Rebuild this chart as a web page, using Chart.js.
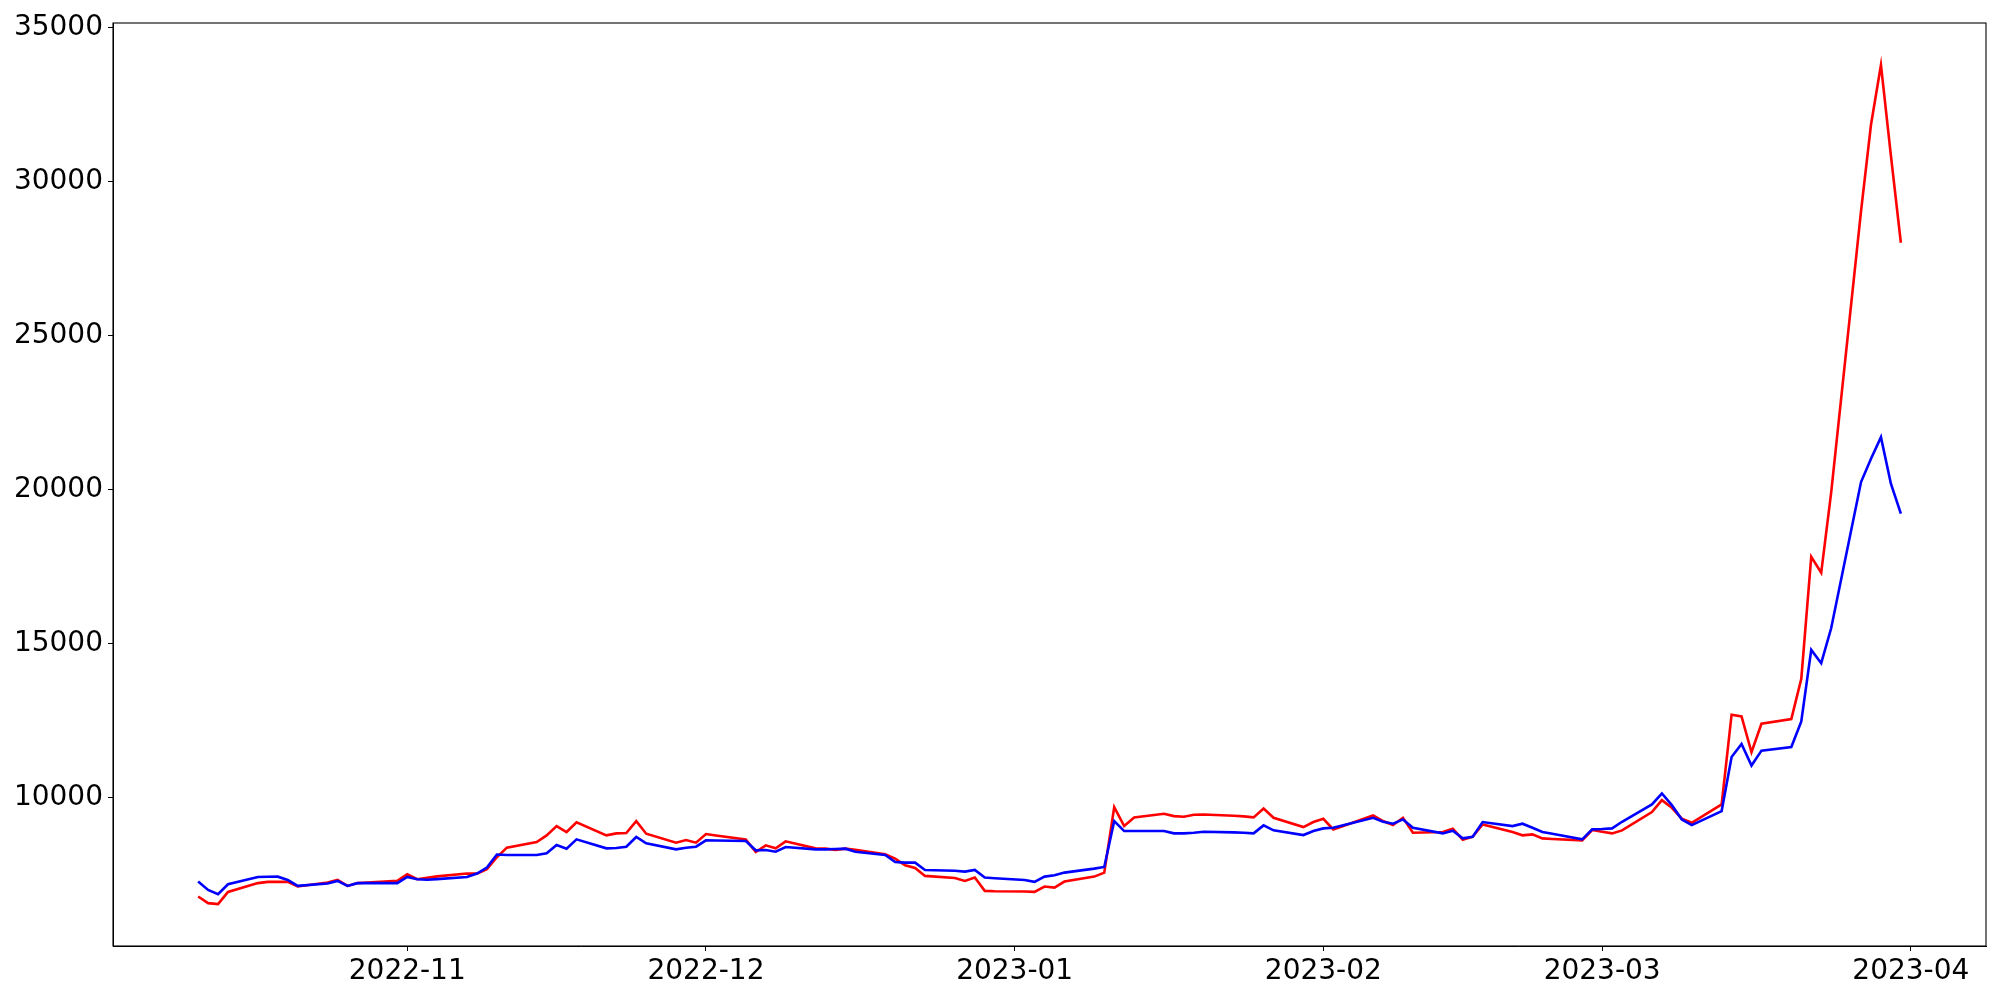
<!DOCTYPE html>
<html>
<head>
<meta charset="utf-8">
<script src="https://cdn.jsdelivr.net/npm/chart.js@4/dist/chart.umd.min.js"></script>
<style>
  html, body { margin: 0; padding: 0; background: #ffffff; }
  #chart { display: block; }
</style>
</head>
<body>
<canvas id="chart" width="2000" height="1000"></canvas>
<script>
// Trading days
const DATES = [
    '2022-10-11', '2022-10-12', '2022-10-13', '2022-10-14', '2022-10-17', '2022-10-18',
    '2022-10-19', '2022-10-20', '2022-10-21', '2022-10-24', '2022-10-25', '2022-10-26',
    '2022-10-27', '2022-10-28', '2022-10-31',
    '2022-11-01', '2022-11-02', '2022-11-03', '2022-11-04', '2022-11-07', '2022-11-08',
    '2022-11-09', '2022-11-10', '2022-11-11', '2022-11-14', '2022-11-15', '2022-11-16',
    '2022-11-17', '2022-11-18', '2022-11-21', '2022-11-22', '2022-11-23', '2022-11-24',
    '2022-11-25', '2022-11-28', '2022-11-29', '2022-11-30',
    '2022-12-01', '2022-12-02', '2022-12-05', '2022-12-06', '2022-12-07', '2022-12-08',
    '2022-12-09', '2022-12-12', '2022-12-13', '2022-12-14', '2022-12-15', '2022-12-16',
    '2022-12-19', '2022-12-20', '2022-12-21', '2022-12-22', '2022-12-23', '2022-12-26',
    '2022-12-27', '2022-12-28', '2022-12-29', '2022-12-30',
    '2023-01-02', '2023-01-03', '2023-01-04', '2023-01-05', '2023-01-06', '2023-01-09',
    '2023-01-10', '2023-01-11', '2023-01-12', '2023-01-13', '2023-01-16', '2023-01-17',
    '2023-01-18', '2023-01-19', '2023-01-20', '2023-01-23', '2023-01-24', '2023-01-25',
    '2023-01-26', '2023-01-27', '2023-01-30', '2023-01-31',
    '2023-02-01', '2023-02-02', '2023-02-03', '2023-02-06', '2023-02-07', '2023-02-08',
    '2023-02-09', '2023-02-10', '2023-02-13', '2023-02-14', '2023-02-15', '2023-02-16',
    '2023-02-17', '2023-02-20', '2023-02-21', '2023-02-22', '2023-02-23', '2023-02-24',
    '2023-02-27', '2023-02-28',
    '2023-03-01', '2023-03-02', '2023-03-03', '2023-03-06', '2023-03-07', '2023-03-08',
    '2023-03-09', '2023-03-10', '2023-03-13', '2023-03-14', '2023-03-15', '2023-03-16',
    '2023-03-17', '2023-03-20', '2023-03-21', '2023-03-22', '2023-03-23', '2023-03-24',
    '2023-03-27', '2023-03-28', '2023-03-29', '2023-03-30', '2023-03-31'
];

// Red series
const RED_VALUES = [
    6776, 6560, 6530, 6925, 7210, 7250, 7250, 7250, 7100, 7230, 7314, 7119, 7210, 7230, 7282,
    7498, 7336, 7380, 7430, 7520, 7520, 7660, 8050, 8362, 8546, 8762, 9064, 8870, 9183,
    8762, 8826, 8837, 9226, 8816, 8524, 8610, 8524,
    8805, 8760, 8632, 8222, 8438, 8340, 8567, 8340, 8330, 8286, 8330, 8297, 8146, 8006,
    7790, 7703, 7444, 7379, 7282, 7390, 6958, 6947,
    6936, 6926, 7098, 7066, 7260, 7422, 7552, 9680, 9064, 9345, 9464, 9388, 9366, 9431,
    9442, 9400, 9380, 9345, 9636, 9334, 9032, 9194,
    9302, 8956, 9064, 9410, 9226, 9096, 9334, 8848, 8870, 8978, 8620, 8718, 9118, 8870,
    8762, 8794, 8664, 8643, 8600, 8934,
    8880, 8826, 8924, 9518, 9906, 9658, 9302, 9172, 9766, 12682, 12628, 11462, 12390, 12542,
    13848, 17812, 17294, 19900, 29044, 31852, 33796, 30850, 28018
];

// Blue series
const BLUE_VALUES = [
    7260, 6990, 6850, 7174, 7411, 7415, 7420, 7314, 7119, 7197, 7282, 7119, 7209, 7210, 7210,
    7411, 7336, 7320, 7340, 7411, 7520, 7715, 8140, 8124, 8124, 8178, 8448, 8330, 8632,
    8340, 8351, 8394, 8708, 8502, 8308, 8362, 8394,
    8600, 8595, 8578, 8276, 8286, 8232, 8384, 8308, 8308, 8319, 8330, 8232, 8124, 7898,
    7876, 7876, 7638, 7610, 7584, 7638, 7390, 7368,
    7314, 7250, 7422, 7466, 7552, 7682, 7736, 9226, 8902, 8902, 8902, 8826, 8826, 8848,
    8880, 8859, 8848, 8826, 9086, 8924, 8772, 8902,
    8988, 9010, 9090, 9334, 9204, 9140, 9280, 9010, 8826, 8915, 8664, 8718, 9194, 9064,
    9140, 9010, 8870, 8816, 8632, 8956,
    8967, 8988, 9204, 9766, 10122, 9744, 9280, 9096, 9550, 11310, 11732, 11030, 11516, 11634,
    12466, 14788, 14356, 15490, 20242, 20998, 21700, 20188, 19216
];

// Axis ticks
const X_TICK_LABELS = ['2022-11', '2022-12', '2023-01', '2023-02', '2023-03', '2023-04'];
const Y_TICKS = [10000, 15000, 20000, 25000, 30000, 35000];

const RED  = '#ff0000';
const BLUE = '#0000ff';
const FONT = { family: 'DejaVu Sans', size: 28 };

const DAY_MS = 86400000;
const to_day = s => {
    const [y, m, d] = s.split('-').map(Number);
    return Date.UTC(y, m - 1, d || 1) / DAY_MS;
};

const x_days = DATES.map(to_day);
const x_first = x_days[0];
const x_last = x_days[x_days.length - 1];
const x_pad = (x_last - x_first) * 0.05;

const all_values = RED_VALUES.concat(BLUE_VALUES);
const y_lo = Math.min(...all_values);
const y_hi = Math.max(...all_values);
const y_pad = (y_hi - y_lo) * 0.05;

const series = values => values.map((v, i) => ({ x: x_days[i], y: v }));

// Frame around the plot area, like matplotlib spines
const frame_plugin = {
    id: 'frame',
    afterDraw(chart) {
        const { ctx, chartArea: a } = chart;
        ctx.save();
        ctx.strokeStyle = '#000000';
        ctx.lineWidth = 1.1;
        ctx.strokeRect(a.left, a.top, a.right - a.left, a.bottom - a.top);
        ctx.restore();
    }
};

window.onload = () => {
    new Chart(document.getElementById('chart'), {
        type: 'line',
        data: {
            datasets: [
                {
                    data: series(BLUE_VALUES),
                    borderColor: BLUE,
                    borderWidth: 2.6,
                    pointRadius: 0,
                    tension: 0,
                    order: 1
                },
                {
                    data: series(RED_VALUES),
                    borderColor: RED,
                    borderWidth: 2.6,
                    pointRadius: 0,
                    tension: 0,
                    order: 2
                }
            ]
        },
        options: {
            responsive: false,
            animation: false,
            events: [],
            layout: { padding: { top: 23, right: 14, left: 0, bottom: 0 } },
            plugins: {
                legend: { display: false },
                tooltip: { enabled: false }
            },
            scales: {
                x: {
                    type: 'linear',
                    min: x_first - x_pad,
                    max: x_last + x_pad,
                    afterBuildTicks: scale => {
                        scale.ticks = X_TICK_LABELS.map(l => ({ value: to_day(l + '-01') }));
                    },
                    afterFit: scale => { scale.height = 54; },
                    ticks: {
                        color: '#000000',
                        font: FONT,
                        padding: 4,
                        maxRotation: 0,
                        autoSkip: false,
                        callback: (v, i) => X_TICK_LABELS[i]
                    },
                    grid: {
                        drawOnChartArea: false,
                        drawTicks: true,
                        tickLength: 5,
                        color: '#000000',
                        lineWidth: 1
                    },
                    border: { display: true, color: '#000000', width: 1 }
                },
                y: {
                    type: 'linear',
                    min: y_lo - y_pad,
                    max: y_hi + y_pad,
                    afterBuildTicks: scale => {
                        scale.ticks = Y_TICKS.map(v => ({ value: v }));
                    },
                    afterFit: scale => { scale.width = 113; },
                    ticks: {
                        color: '#000000',
                        font: FONT,
                        padding: 5,
                        autoSkip: false,
                        callback: v => String(v)
                    },
                    grid: {
                        drawOnChartArea: false,
                        drawTicks: true,
                        tickLength: 5,
                        color: '#000000',
                        lineWidth: 1
                    },
                    border: { display: true, color: '#000000', width: 1 }
                }
            }
        },
        plugins: [frame_plugin]
    });
};
</script>
</body>
</html>
